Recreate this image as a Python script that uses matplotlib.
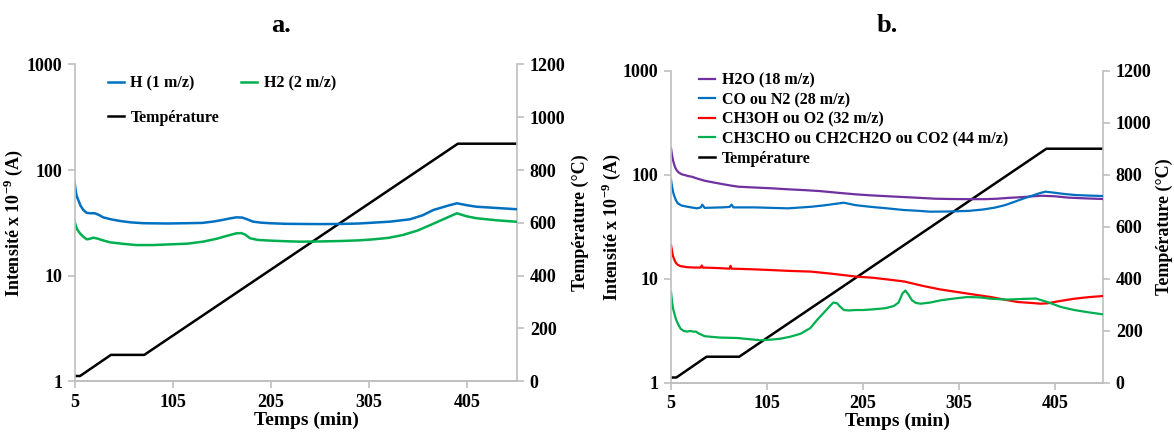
import matplotlib
matplotlib.use("Agg")
import matplotlib.pyplot as plt
from matplotlib.ticker import FixedLocator, NullLocator, FixedFormatter

plt.rcParams['font.family'] = ['Liberation Serif', 'DejaVu Serif']
plt.rcParams['mathtext.fontset'] = 'custom'
plt.rcParams['mathtext.rm'] = 'Liberation Serif:bold'
plt.rcParams['mathtext.bf'] = 'Liberation Serif:bold'

# ---------------- data ----------------
# Temperature program (same for both panels)
temp_t = [5, 10.5, 42, 76, 396, 456]
temp_v = [20, 20, 100, 100, 900, 900]

# Panel a
h_t = [5, 6, 7, 8.7, 11, 13.8, 17, 20.6, 25.7, 30, 34, 42, 51, 62, 75, 100, 119, 135, 146, 155, 163, 170, 176, 181, 187, 195, 204, 220, 235, 255, 276, 295, 310, 327, 347, 360, 371, 385, 395, 405, 415, 435, 456]
h_v = [76, 64, 57, 52, 46, 41.9, 39.5, 39, 39, 37.5, 35.7, 34.2, 33, 32, 31.4, 31.2, 31.4, 31.6, 32.5, 33.6, 34.8, 35.7, 35.5, 34.2, 32.5, 31.8, 31.4, 31.0, 30.9, 30.8, 30.9, 31.2, 31.8, 32.5, 34.2, 37.3, 41.9, 45.8, 48.5, 46.5, 45, 43.8, 42.6]
h2_t = [5, 6, 7.5, 10.4, 13.5, 17.2, 20, 24, 28, 32.5, 41, 55, 68, 85, 102, 120, 136, 150, 160, 170, 175, 179, 184, 192, 204, 220, 235, 255, 276, 295, 310, 325, 340, 355, 368, 382, 395, 405, 415, 435, 456]
h2_v = [32.4, 30, 27.5, 25.2, 23.5, 22.1, 22.3, 22.9, 22.5, 21.8, 20.7, 20.0, 19.5, 19.5, 19.8, 20.1, 21, 22.4, 23.8, 25.2, 25.3, 24.5, 22.6, 21.8, 21.5, 21.2, 21, 21.1, 21.3, 21.6, 22.1, 22.8, 24.3, 26.8, 30.2, 34.5, 39, 36.5, 35, 33.5, 32.4]

# Panel b
h2o_t = [5, 6, 7, 9, 11, 13, 16, 19.6, 23, 26.5, 32, 40, 50, 58, 66, 75, 90, 110, 128, 145, 160, 179, 197, 212, 226, 244, 261, 280, 296, 315, 332, 345, 358, 367, 380, 391, 405, 419, 437, 455]
h2o_v = [179, 155, 138, 119, 110, 105, 101, 99, 97, 95.7, 92, 87.5, 84, 81.4, 79, 76.7, 75.5, 74, 72.3, 71, 69.6, 67, 64.8, 63.4, 62.4, 61.2, 60.1, 58.8, 58.4, 58.2, 58.2, 58.8, 60, 60.6, 61.8, 62.8, 62, 60.2, 59.2, 58.4]
co_t = [5, 6, 7, 8, 10, 12, 16, 22, 32, 36, 37.5, 40, 58, 66, 68, 70, 92, 127, 151, 165, 175, 185, 197, 212, 230, 247, 262, 275, 295, 315, 330, 342, 353, 363, 372, 381, 389, 395, 405, 415, 426, 440, 455]
co_v = [89, 77, 69, 63.8, 57, 53, 50.5, 49.2, 47.5, 48.5, 51.5, 48, 48.5, 49, 51.5, 48.5, 48.5, 47.5, 49.2, 50.8, 52.3, 53.8, 51, 49.2, 47.5, 45.8, 45, 44.1, 44.3, 44.9, 46.3, 48.2, 51, 55, 59, 62.8, 66.5, 68.7, 67, 65.2, 63.8, 63, 62.4]
ch3oh_t = [5, 6, 7, 8.5, 10, 12, 15, 22, 30, 36, 37, 38, 50, 58, 66, 67, 68, 80, 92, 110, 127, 151, 175, 197, 216, 232, 248, 268, 285, 303, 320, 338, 352, 366, 380, 390, 397, 410, 425, 440, 455]
ch3oh_v = [21, 18.5, 16.5, 15.2, 14.2, 13.6, 13.2, 12.9, 12.8, 12.8, 13.4, 12.8, 12.7, 12.6, 12.5, 13.3, 12.5, 12.4, 12.3, 12.1, 11.9, 11.7, 11.1, 10.5, 10.2, 9.8, 9.4, 8.5, 7.9, 7.45, 7.05, 6.67, 6.3, 5.97, 5.85, 5.75, 5.8, 6.1, 6.42, 6.65, 6.82]
c44_t = [5, 6, 7, 8.5, 10, 12, 15, 18, 22, 25, 28, 31, 33, 40, 55, 74, 98, 110, 119, 130, 140, 150, 158, 164, 170, 174, 178, 181, 185, 190, 197, 205, 216, 228, 237, 242, 246, 249, 252, 256, 260, 265, 275, 286, 300, 314, 328, 338, 355, 373, 385, 397, 411, 425, 440, 455]
c44_v = [7.4, 6.0, 5.2, 4.6, 4.1, 3.7, 3.3, 3.15, 3.1, 3.15, 3.1, 3.1, 3.0, 2.8, 2.72, 2.69, 2.56, 2.6, 2.65, 2.78, 2.96, 3.35, 4.1, 4.7, 5.4, 5.9, 5.8, 5.4, 5.0, 4.95, 5.0, 5.0, 5.08, 5.2, 5.46, 5.9, 7.2, 7.7, 7.1, 6.2, 5.85, 5.75, 5.9, 6.2, 6.45, 6.67, 6.6, 6.42, 6.3, 6.4, 6.45, 5.97, 5.35, 5.0, 4.75, 4.54]

x_ticks = [5, 105, 205, 305, 405]
y_ticks = [1, 10, 100, 1000]
y_tick_labels = ['1', '10', '100', '1000']
t_ticks = [0, 200, 400, 600, 800, 1000, 1200]

# colours
C_BLUE = '#0070C0'
C_GREEN = '#00B050'
C_PURPLE = '#7030A0'
C_RED = '#FF0000'
C_TEMP = '#000000'
SPINE = '#BFBFBF'

fig = plt.figure(figsize=(11.74, 4.32), dpi=100)

TICK_FS = 13
LAB_FS = 13
XLAB_FS = 14
LEG_FS = 11.5


def style_axes(ax, ax2, xmax, left_x, right_x):
    ax.set_yscale('log')
    ax.set_ylim(1, 1000)
    ax.set_xlim(5, xmax)
    ax.yaxis.set_major_locator(FixedLocator(y_ticks))
    ax.yaxis.set_major_formatter(FixedFormatter(y_tick_labels))
    ax.yaxis.set_minor_locator(NullLocator())
    ax.set_xticks(x_ticks)
    ax2.set_ylim(0, 1200)
    ax2.set_yticks(t_ticks)
    for a in (ax, ax2):
        for s in a.spines.values():
            s.set_color(SPINE)
            s.set_linewidth(1.2)
        a.spines['top'].set_visible(False)
        a.tick_params(axis='both', which='major', length=5, width=1.2, color=SPINE,
                      labelsize=TICK_FS, direction='out', pad=4)
        for lab in a.get_xticklabels() + a.get_yticklabels():
            lab.set_fontweight('bold')
    ax2.spines['left'].set_visible(False)
    ax.spines['right'].set_visible(False)
    ax.set_xlabel('Temps (min)', fontsize=XLAB_FS, fontweight='bold')
    ax.xaxis.set_label_coords(0.524, -0.095)
    ax.set_ylabel('Intensité x 10$^{-9}$ (A)', fontsize=LAB_FS, fontweight='bold')
    ax.yaxis.set_label_coords(left_x, 0.5)
    ax2.set_ylabel('Température (°C)', fontsize=LAB_FS, fontweight='bold')
    ax2.yaxis.set_label_coords(right_x, 0.5)
    ax.set_zorder(ax2.get_zorder() + 1)
    ax.patch.set_visible(False)


# ---------------- panel a ----------------
axa = fig.add_axes([0.0636, 0.1174, 0.3770, 0.7333])
axa2 = axa.twinx()
la1, = axa.plot(h_t, h_v, color=C_BLUE, lw=1.8, label='H (1 m/z)')
la2, = axa.plot(h2_t, h2_v, color=C_GREEN, lw=1.8, label='H2 (2 m/z)')
la3, = axa2.plot(temp_t, temp_v, color=C_TEMP, lw=1.8, label='Température')
style_axes(axa, axa2, 456.6, -0.112, 1.123)
leg = axa.legend(handles=[la1, la3, la2], ncol=2, loc='upper left',
                 bbox_to_anchor=(0.05, 1.0), frameon=False,
                 prop={'size': LEG_FS, 'weight': 'bold'},
                 handlelength=1.0, handletextpad=0.4, columnspacing=1.4,
                 labelspacing=1.15, borderaxespad=0.3)

# ---------------- panel b ----------------
axb = fig.add_axes([0.5716, 0.1141, 0.3682, 0.7222])
axb2 = axb.twinx()
lb1, = axb.plot(h2o_t, h2o_v, color=C_PURPLE, lw=1.6, label='H2O (18 m/z)')
lb2, = axb.plot(co_t, co_v, color=C_BLUE, lw=1.6, label='CO ou N2 (28 m/z)')
lb3, = axb.plot(ch3oh_t, ch3oh_v, color=C_RED, lw=1.6, label='CH3OH ou O2 (32 m/z)')
lb4, = axb.plot(c44_t, c44_v, color=C_GREEN, lw=1.6, label='CH3CHO ou CH2CH2O ou CO2 (44 m/z)')
lb5, = axb2.plot(temp_t, temp_v, color=C_TEMP, lw=1.8, label='Température')
style_axes(axb, axb2, 455.3, -0.111, 1.121)
axb.legend(handles=[lb1, lb2, lb3, lb4, lb5], loc='upper left',
           bbox_to_anchor=(0.043, 1.025), frameon=False,
           prop={'size': LEG_FS, 'weight': 'bold'},
           handlelength=1.0, handletextpad=0.4, labelspacing=0.22,
           borderaxespad=0.2)

fig.text(281 / 1174, 1 - 25 / 432, 'a.', fontsize=19, fontweight='bold', ha='center', va='center')
fig.text(887 / 1174, 1 - 25 / 432, 'b.', fontsize=19, fontweight='bold', ha='center', va='center')

fig.savefig('out.png', dpi=100)
